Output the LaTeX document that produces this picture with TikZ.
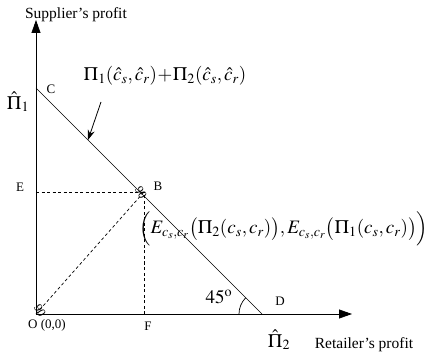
\documentclass[tikz,border=0pt]{standalone}
\usepackage{mathptmx}
\usepackage{fontspec}
\setmainfont{Liberation Serif}
\usetikzlibrary{arrows.meta,calc}
\begin{document}
\begin{tikzpicture}[x=1pt,y=-1pt,
  axis/.style={line width=0.8pt,-{Triangle[length=13pt,width=9pt]}},
  lab/.style={font=\fontsize{13}{15}\selectfont,inner sep=1pt},
  big/.style={font=\fontsize{19}{21}\selectfont,inner sep=1pt},
  axlab/.style={font=\fontsize{15.5}{17}\selectfont,inner sep=1pt},
  dashline/.style={line width=0.7pt,dash pattern=on 3pt off 2.5pt},
  ninety/.style={font=\fontsize{12}{13}\selectfont,inner sep=0pt}]
\useasboundingbox (0,0) rectangle (432,361);
\coordinate (O) at (36,314);
\coordinate (Ytop) at (36,20);
\coordinate (Xend) at (352,314);
\coordinate (C) at (36,88);
\coordinate (D) at (262,314);
\coordinate (B) at (144,192);
\coordinate (E) at (36,192);
\coordinate (F) at (144,314);
\coordinate (P) at (88,140);
\coordinate (Ps) at (101,102);
\draw[axis] (O) -- (Ytop);
\draw[axis] (O) -- (Xend);
\draw[line width=0.7pt] (C) -- (D);
\draw[dashline] (E) -- (B);
\draw[dashline] (F) -- (B);
\draw[dashline] (O) -- (B);
\draw[line width=0.8pt,-{Stealth[length=10pt,width=7pt]}] (Ps) -- (P);
\draw[line width=0.7pt] ($(D)+(-23,0)$) arc[start angle=180,end angle=225,radius=23];
\node[axlab] (ylab) at (76,15) {Supplier's profit};
\node[axlab] (xlab) at (364,345) {Retailer's profit};
\node[big] (pi1) at (18,102) {$\hat{\Pi}_1$};
\node[big] (pi2) at (279,340) {$\hat{\Pi}_2$};
\node[lab] (Cl) at (51,89) {C};
\node[lab] (El) at (20,187) {E};
\node[lab] (Bl) at (158,186) {B};
\node[lab] (Dl) at (280,301) {D};
\node[lab] (Fl) at (148,326) {F};
\node[lab,anchor=west] (Ol) at (27,325) {O (0,0)};
\node[big] (ang) at (219,297) {$45^{\mathrm{o}}$};
\node[big] (sum) at (165,76) {$\Pi_1(\hat{c}_s,\hat{c}_r)\!+\!\Pi_2(\hat{c}_s,\hat{c}_r)$};
\node[big,anchor=west] (exp) at (138,229) {$\Bigl(E_{c_s,c_r}\bigl(\Pi_2(c_s,c_r)\bigr),E_{c_s,c_r}\bigl(\Pi_1(c_s,c_r)\bigr)\Bigr)$};
\node[ninety,rotate=-60] (n1) at (141,193) {90};
\node[ninety,rotate=-60] (n2) at (40,311) {90};
\end{tikzpicture}
\end{document}
